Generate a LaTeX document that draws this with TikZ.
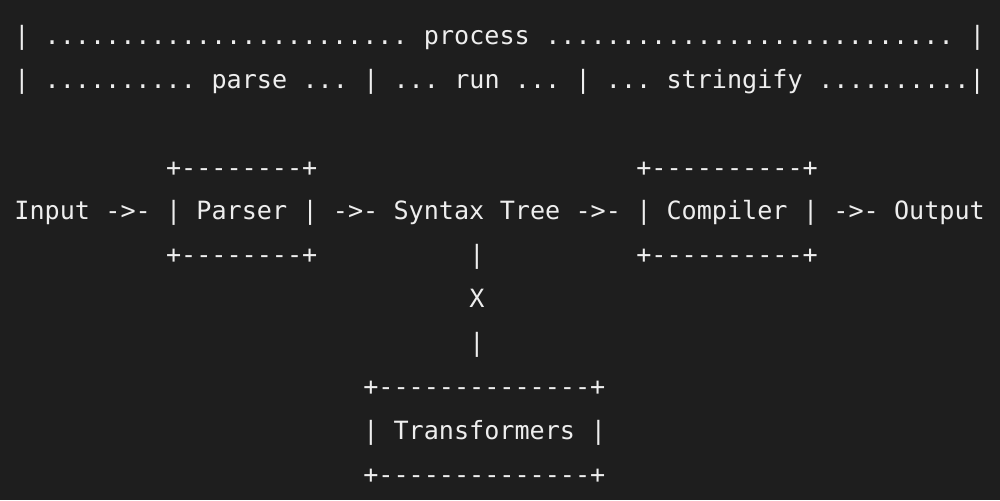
\documentclass[tikz,border=0pt]{standalone}
\usepackage{fontspec}
\setmonofont{DejaVu Sans Mono}
\definecolor{bg}{HTML}{1E1E1E}
\definecolor{fg}{HTML}{EEEEEE}
\begin{document}
\begin{tikzpicture}[x=0.02cm, y=-0.02cm, every node/.style={anchor=base west, inner sep=0pt, outer sep=0pt, text=fg, font=\ttfamily\fontsize{14.3}{17}\selectfont}]
	\fill [bg] (0,0) rectangle (1000,500);
	\begin{scope}[shift={(14.4,44.4)}, x=0.3034cm, y=-0.878cm]
		% process bar
		\node (procl) at (0,0) {|};
		\node (procdotsl) at (2,0) {........................};
		\node (process) at (27,0) {process};
		\node (procdotsr) at (35,0) {...........................};
		\node (procr) at (63,0) {|};
		% parse / run / stringify bar
		\node (phasel) at (0,1) {|};
		\node (parsedotsl) at (2,1) {..........};
		\node (parse) at (13,1) {parse};
		\node (parsedotsr) at (19,1) {...};
		\node (sepa) at (23,1) {|};
		\node (rundotsl) at (25,1) {...};
		\node (run) at (29,1) {run};
		\node (rundotsr) at (33,1) {...};
		\node (sepb) at (37,1) {|};
		\node (strdotsl) at (39,1) {...};
		\node (stringify) at (43,1) {stringify};
		\node (strdotsr) at (53,1) {..........|};
		% boxes
		\node (parsertop) at (10,3) {+--------+};
		\node (compilertop) at (41,3) {+----------+};
		\node (input) at (0,4) {Input};
		\node (arra) at (6,4) {->-};
		\node (parserl) at (10,4) {|};
		\node (parser) at (12,4) {Parser};
		\node (parserr) at (19,4) {|};
		\node (arrb) at (21,4) {->-};
		\node (syntax) at (25,4) {Syntax};
		\node (tree) at (32,4) {Tree};
		\node (arrc) at (37,4) {->-};
		\node (compilerl) at (41,4) {|};
		\node (compiler) at (43,4) {Compiler};
		\node (compilerr) at (52,4) {|};
		\node (arrd) at (54,4) {->-};
		\node (output) at (58,4) {Output};
		\node (parserbot) at (10,5) {+--------+};
		\node (compilerbot) at (41,5) {+----------+};
		% link to transformers
		\node (linka) at (30,5) {|};
		\node (cross) at (30,6) {X};
		\node (linkb) at (30,7) {|};
		\node (transtop) at (23,8) {+--------------+};
		\node (transl) at (23,9) {|};
		\node (transformers) at (25,9) {Transformers};
		\node (transr) at (38,9) {|};
		\node (transbot) at (23,10) {+--------------+};
	\end{scope}
\end{tikzpicture}
\end{document}
